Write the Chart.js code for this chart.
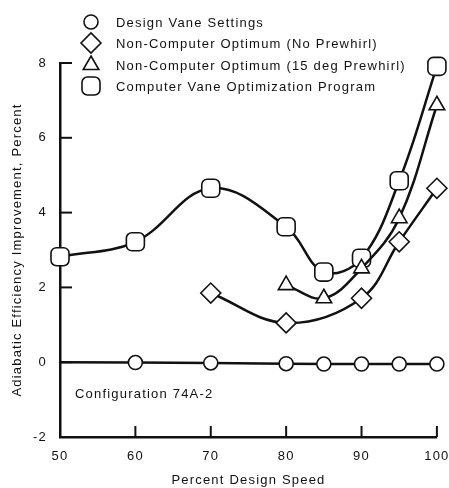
<!DOCTYPE html>
<html>
<head>
<meta charset="utf-8">
<script src="https://cdn.jsdelivr.net/npm/chart.js@4.4.0/dist/chart.umd.min.js"></script>
<style>
html, body { margin: 0; padding: 0; background: #fff; }
</style>
</head>
<body>
<canvas id="myChart" width="449" height="488"></canvas>
<script>
// values
var speeds = [50, 60, 70, 80, 85, 90, 95, 100];
var designVane = [0, -0.01, -0.02, -0.04, -0.05, -0.05, -0.05, -0.05];
var noPrewhirlSpeeds = [70, 80, 90, 95, 100];
var noPrewhirl = [1.85, 1.05, 1.71, 3.22, 4.65];
var prewhirlSpeeds = [80, 85, 90, 95, 100];
var prewhirl15 = [2.06, 1.71, 2.51, 3.85, 6.87];
var computerOpt = [2.82, 3.22, 4.65, 3.62, 2.41, 2.78, 4.85, 7.91];
var seriesNames = [
    'Design Vane Settings',
    'Non-Computer Optimum (No Prewhirl)',
    'Non-Computer Optimum (15 deg Prewhirl)',
    'Computer Vane Optimization Program'
];
var xTicks = [50, 60, 70, 80, 90, 100];
var yTicks = [-2, 0, 2, 4, 6, 8];

var FONT = '"Liberation Sans", Arial, sans-serif';
var INK = '#111';

function pairs(xs, ys) {
    return xs.map(function (x, i) { return { x: x, y: ys[i] }; });
}

var textSpacing = {
    id: 'textSpacing',
    beforeDraw: function (chart) {
        chart.ctx.letterSpacing = '1.2px';
    }
};

// small inward tick marks like the original drawing
var innerTicks = {
    id: 'innerTicks',
    beforeDatasetsDraw: function (chart) {
        var ctx = chart.ctx, a = chart.chartArea;
        var xs = chart.scales.x, ys = chart.scales.y;
        ctx.save();
        ctx.strokeStyle = INK;
        ctx.lineWidth = 2;
        yTicks.forEach(function (v) {
            if (v === -2) return;
            var py = ys.getPixelForValue(v);
            ctx.beginPath(); ctx.moveTo(a.left, py); ctx.lineTo(a.left + 12, py); ctx.stroke();
        });
        xTicks.forEach(function (v) {
            if (v === 50) return;
            var px = xs.getPixelForValue(v);
            ctx.beginPath(); ctx.moveTo(px, a.bottom); ctx.lineTo(px, a.bottom - 11); ctx.stroke();
        });
        ctx.restore();
    }
};

var sketchLegend = {
    id: 'sketchLegend',
    afterDraw: function (chart) {
        var ctx = chart.ctx;
        var rows = [22, 43, 65, 86];
        ctx.save();
        ctx.font = '13px ' + FONT;
        ctx.letterSpacing = '1.2px';
        ctx.textBaseline = 'middle';
        chart.data.datasets.forEach(function (ds, i) {
            ctx.strokeStyle = INK;
            ctx.fillStyle = '#fff';
            ctx.lineWidth = 1.6;
            Chart.helpers.drawPoint(ctx, {
                pointStyle: ds.pointStyle, radius: ds.pointHoverRadius, rotation: 0, borderWidth: 1.6
            }, 91, rows[i]);
            ctx.fillStyle = INK;
            ctx.fillText(ds.label, 116, rows[i] + 1);
        });
        // configuration note inside the plot
        ctx.fillText('Configuration 74A-2', chart.chartArea.left + 15, 394);
        ctx.restore();
    }
};

function series(label, data, style, radius) {
    return {
        label: label,
        data: data,
        pointStyle: style,
        pointRadius: radius,
        pointHoverRadius: Array.isArray(radius) ? radius[1] : radius,
        pointBackgroundColor: '#fff',
        pointBorderColor: INK,
        pointBorderWidth: 1.6,
        borderColor: INK,
        borderWidth: 2.5,
        backgroundColor: '#fff',
        tension: 0.38,
        fill: false,
        clip: false
    };
}

var circleRadius = speeds.map(function (s) { return s === 50 ? 0 : 7; });
var designSet = series(seriesNames[0], pairs(speeds, designVane), 'circle', circleRadius);
designSet.tension = 0;

const ctx = document.getElementById('myChart').getContext('2d');
const myChart = new Chart(ctx, {
    type: 'line',
    data: {
        datasets: [
            designSet,
            series(seriesNames[1], pairs(noPrewhirlSpeeds, noPrewhirl), 'rectRot', 10),
            series(seriesNames[2], pairs(prewhirlSpeeds, prewhirl15), 'triangle', 9),
            series(seriesNames[3], pairs(speeds, computerOpt), 'rectRounded', 10.5)
        ]
    },
    options: {
        responsive: false,
        animation: false,
        devicePixelRatio: 1,
        layout: { padding: { top: 63, right: 6, left: 0, bottom: 0 } },
        plugins: {
            legend: { display: false },
            tooltip: { enabled: false }
        },
        scales: {
            x: {
                type: 'linear',
                min: 50,
                max: 100,
                afterBuildTicks: function (scale) {
                    scale.ticks = xTicks.map(function (v) { return { value: v }; });
                },
                afterFit: function (scale) {
                    scale.height = 51;
                    scale.paddingLeft = 0;
                    scale.paddingRight = 0;
                },
                grid: { display: false },
                border: { display: true, color: INK, width: 2.5 },
                ticks: {
                    color: INK,
                    padding: 4,
                    maxRotation: 0,
                    font: { family: FONT, size: 13 }
                },
                title: {
                    display: true,
                    text: 'Percent Design Speed',
                    color: INK,
                    font: { family: FONT, size: 13 },
                    padding: { top: 0, bottom: 0 }
                }
            },
            y: {
                min: -2,
                max: 8,
                afterBuildTicks: function (scale) {
                    scale.ticks = yTicks.map(function (v) { return { value: v }; });
                },
                afterFit: function (scale) {
                    scale.width = 60;
                    scale.paddingTop = 0;
                    scale.paddingBottom = 0;
                },
                grid: { display: false },
                border: { display: true, color: INK, width: 2.5 },
                ticks: {
                    color: INK,
                    padding: 5,
                    font: { family: FONT, size: 13 }
                },
                title: {
                    display: true,
                    text: 'Adiabatic Efficiency Improvement, Percent',
                    color: INK,
                    font: { family: FONT, size: 13 },
                    padding: { top: 10, bottom: 0 }
                }
            }
        }
    },
    plugins: [textSpacing, innerTicks, sketchLegend]
});
</script>
</body>
</html>
